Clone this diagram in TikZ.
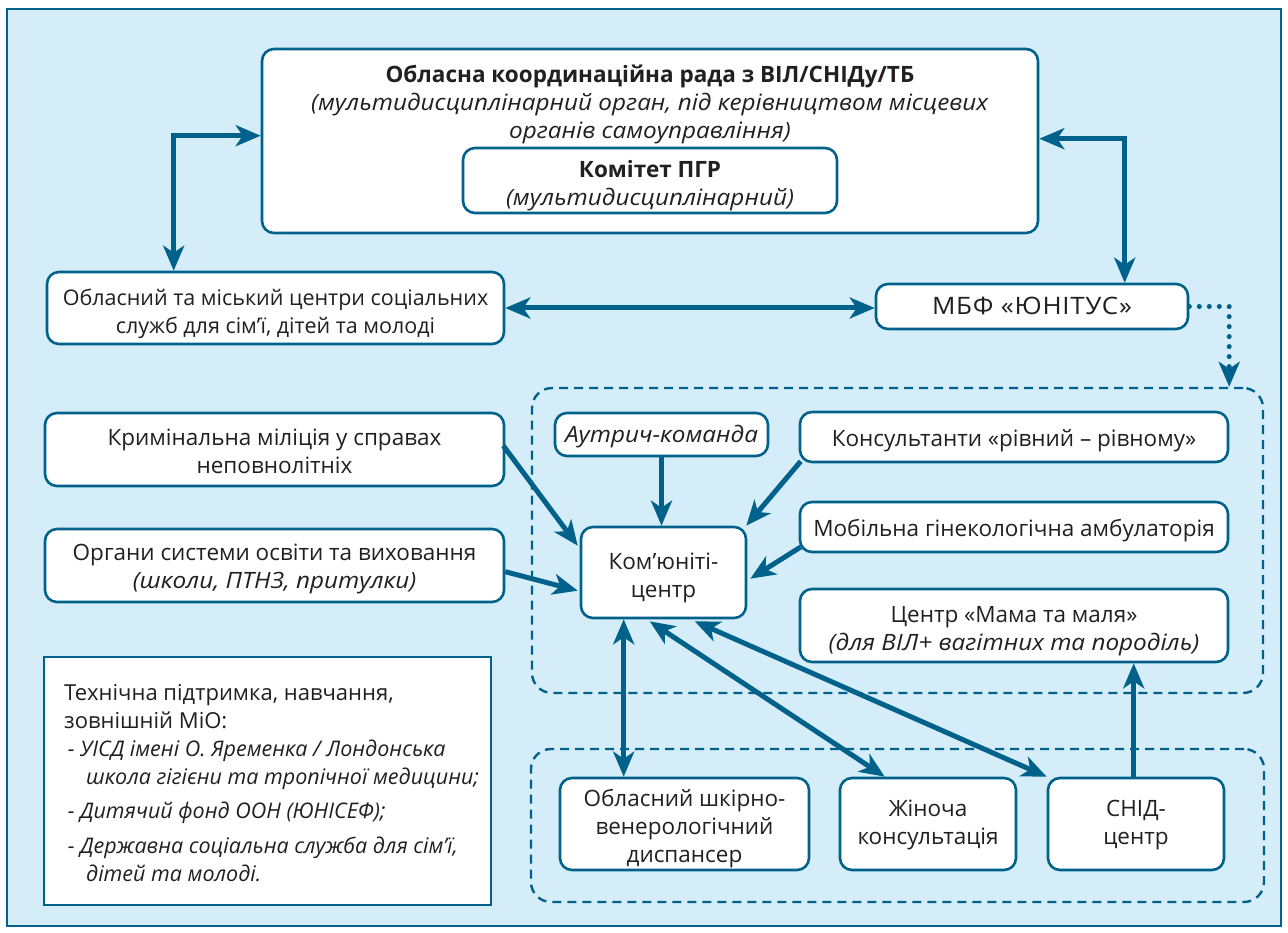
\documentclass[tikz,border=0pt]{standalone}
\usepackage{fontspec}
\setmainfont{Open Sans}[ItalicFeatures={FakeStretch=1.08}]
\newfontfamily\techfont{Open Sans}
\usetikzlibrary{arrows.meta,calc}
\definecolor{dblue}{HTML}{00628A}
\definecolor{lblue}{HTML}{D5ECF9}
\definecolor{txt}{HTML}{231F20}
\newcommand{\lo}[2][4pt]{\raisebox{-#1}[\height][\depth]{\begin{tabular}{@{}c@{}}#2\end{tabular}}}
\begin{document}
\begin{tikzpicture}[x=1pt,y=-1pt,
  box/.style={draw=dblue, line width=2.6pt, fill=white, rounded corners=12pt, align=center, inner sep=2pt, text=txt, font=\fontsize{22.5}{28}\selectfont},
  plain/.style={align=center, inner sep=0pt, text=txt, font=\fontsize{22.5}{28}\selectfont},
  grp/.style={draw=dblue, line width=2.4pt, dash pattern=on 9pt off 6pt, rounded corners=20pt, inner sep=0pt},
  arr/.style={draw=dblue, line width=5pt, -{Stealth[length=25pt,width=21pt,inset=7pt]}},
  arrb/.style={draw=dblue, line width=5pt, {Stealth[length=25pt,width=21pt,inset=7pt]}-{Stealth[length=25pt,width=21pt,inset=7pt]}},
  dotarr/.style={draw=dblue, line width=5pt, line cap=round, dash pattern=on 0pt off 10pt, -{Stealth[length=25pt,width=21pt,inset=7pt]}}
]
\useasboundingbox (0,0) rectangle (1288,933);
\fill[white] (0,0) rectangle (1288,933);
\draw[draw=dblue, line width=1.5pt, fill=lblue] (7,9) rectangle (1281,926);

% groups
\node[grp, minimum width=731pt, minimum height=305pt] (g1) at (897.5,540.5) {};
\node[grp, minimum width=733pt, minimum height=153pt] (g2) at (897.5,825.5) {};

% top box
\node[box, minimum width=776pt, minimum height=184pt] (top) at (650,141) {};
\node[plain, anchor=north] (toptxt) at (650,64.5) {\textbf{Обласна координаційна рада з ВІЛ/СНІДу/ТБ}\\
  \textit{(мультидисциплінарний орган, під керівництвом місцевих}\\
  \textit{органів самоуправління)}};
\node[box, minimum width=374pt, minimum height=65pt] (pgr) at (650,180.5) {\lo[5pt]{\textbf{Комітет ПГР}\\ \textit{(мультидисциплінарний)}}};

\node[box, minimum width=457pt, minimum height=72pt, font=\fontsize{21.5}{28}\selectfont] (ocss) at (275.5,308) {\lo[6pt]{Обласний та міський центри соціальних\\ служб для сім’ї, дітей та молоді}};
\node[box, minimum width=312pt, minimum height=45pt, font=\fontsize{24}{28}\selectfont] (mbf) at (1032,306.5) {\lo[2pt]{\addfontfeature{FakeStretch=1.08,LetterSpace=3}МБФ «ЮНІТУС»}};

\node[box, minimum width=459pt, minimum height=73pt] (krym) at (274.5,449.5) {\lo{Кримінальна міліція у справах\\ неповнолітніх}};
\node[box, minimum width=459pt, minimum height=73pt] (osv) at (274.5,565.5) {\lo[3pt]{Органи системи освіти та виховання\\ \textit{(школи, ПТНЗ, притулки)}}};

\node[box, minimum width=213pt, minimum height=43pt] (autr) at (661.5,434.5) {\lo[2pt]{\textit{Аутрич-команда}}};
\node[box, minimum width=165pt, minimum height=91pt] (kom) at (663.5,572.5) {\lo[5pt]{Ком’юніті-\\ центр}};
\node[box, minimum width=428pt, minimum height=50pt] (kons) at (1014,437) {\lo{Консультанти «рівний – рівному»}};
\node[box, minimum width=428pt, minimum height=50pt] (mob) at (1014,527) {\lo{Мобільна гінекологічна амбулаторія}};
\node[box, minimum width=428pt, minimum height=73pt] (mama) at (1014,625.5) {\lo[5pt]{Центр «Мама та маля»\\ \textit{(для ВІЛ+ вагітних та породіль)}}};

\node[box, minimum width=249pt, minimum height=92pt] (disp) at (684.5,824) {\lo[5pt]{Обласний шкірно-\\ венерологічний\\ диспансер}};
\node[box, minimum width=176pt, minimum height=92pt] (zhin) at (928,824) {\lo[1pt]{Жіноча\\ консультація}};
\node[box, minimum width=176pt, minimum height=92pt] (snid) at (1136,824) {\lo[1pt]{СНІД-\\ центр}};

\node[draw=dblue, line width=2.6pt, fill=white, minimum width=447pt, minimum height=248pt] (tech) at (267.5,781) {};
\node[plain, align=left, anchor=north west, font=\techfont\fontsize{22}{28}\selectfont] (techtxt) at (64,684) {Технічна підтримка, навчання,\\ зовнішній МіО:\\
  {\fontsize{21.5}{28}\selectfont\textit{\,- УІСД імені О. Яременка / Лондонська}}\\ {\fontsize{21.5}{28}\selectfont\textit{\hspace*{22pt}школа гігієни та тропічної медицини;}}\\[6pt]
  {\fontsize{21.5}{28}\selectfont\textit{\,- Дитячий фонд ООН (ЮНІСЕФ);}}\\[7pt]
  {\fontsize{21.5}{28}\selectfont\textit{\,- Державна соціальна служба для сім’ї,}}\\ {\fontsize{21.5}{28}\selectfont\textit{\hspace*{22pt}дітей та молоді.}}};

% connectors
\draw[arrb] ($(top.north west)+(0,88)$) -| ($(ocss.north west)+(128,0)$);
\draw[arrb] ($(top.north east)+(0,91)$) -| ($(mbf.north west)+(250,0)$);
\draw[arrb] (ocss.east) -- (ocss.east -| mbf.west);
\draw[dotarr] (mbf.east) -| ($(g1.north east)+(-35,0)$);

\draw[arr] ($(krym.north east)+(-2,34)$) -- ($(kom.north west)+(-2,20)$);
\draw[arr] ($(osv.north east)+(0,44)$) -- ($(kom.north west)+(-2,65)$);
\draw[arr] (autr.south) -- (autr.south |- kom.north);
\draw[arr] ($(kons.south west)+(2,-2)$) -- ($(kom.north east)+(-1,0)$);
\draw[arr] ($(mob.west)+(2,20)$) -- ($(kom.north east)+(3,53)$);

\draw[arrb] ($(kom.south west)+(44,0)$) -- ($(disp.north west)+(65,0)$);
\draw[arrb] ($(kom.south west)+(70,2)$) -- ($(zhin.north west)+(46,0)$);
\draw[arrb] ($(kom.south west)+(115,2)$) -- (snid.north west);
\draw[arr] ($(snid.north west)+(87,0)$) -- ($(mama.south west)+(335,0)$);
\end{tikzpicture}
\end{document}
